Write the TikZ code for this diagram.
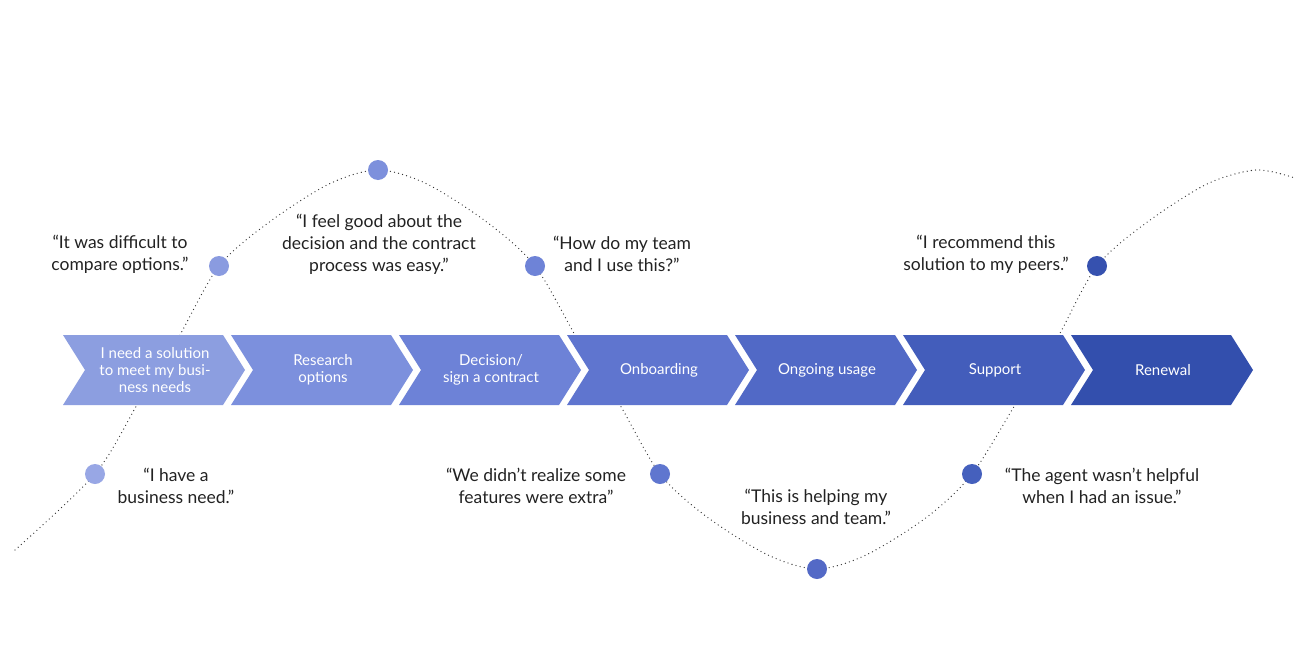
\documentclass[tikz,border=0pt]{standalone}
\usepackage{fontspec}
\setmainfont{Lato}
\definecolor{chA}{HTML}{8C9EE0}
\definecolor{chB}{HTML}{7C90DD}
\definecolor{chC}{HTML}{6D82D7}
\definecolor{chD}{HTML}{5F75CF}
\definecolor{chE}{HTML}{5169C6}
\definecolor{chF}{HTML}{435DBB}
\definecolor{chG}{HTML}{334FAD}
\definecolor{dtA}{HTML}{98A7E5}
\definecolor{dtB}{HTML}{8A9BE0}
\definecolor{dtC}{HTML}{7D90DC}
\definecolor{dtD}{HTML}{6E83D7}
\definecolor{dtE}{HTML}{5F76CF}
\definecolor{dtF}{HTML}{5369C6}
\definecolor{dtG}{HTML}{4560BD}
\definecolor{dtH}{HTML}{3651AF}
\definecolor{quotecol}{HTML}{222222}
\begin{document}
\begin{tikzpicture}[x=1pt,y=-1pt,
  steptext/.style={text=white,align=center,font=\fontsize{15}{17}\selectfont,inner sep=0pt},
  quote/.style={text=quotecol,align=center,font=\fontsize{17.5}{22}\selectfont,inner sep=0pt},
  dotnode/.style={circle,minimum size=20pt,inner sep=0pt,draw=none},
  curve/.style={draw=black!80,line width=1.3pt,line cap=round,dash pattern=on 0pt off 4.2pt}]
\useasboundingbox[fill=white] (0,0) rectangle (1295,653);
% dot positions
\coordinate (p1) at (95,474);
\coordinate (p2) at (219,266);
\coordinate (p3) at (378,170);
\coordinate (p4) at (535,266);
\coordinate (p5) at (660,474);
\coordinate (p6) at (817,569);
\coordinate (p7) at (972,474);
\coordinate (p8) at (1097,266);
\coordinate (cs) at (15,550);
\coordinate (ce) at (1295,178);
% dotted curve (behind the chevrons)
\draw[curve] plot[smooth,tension=0.5] coordinates {
  (cs) (p1) (137,405) (159,370) (180,335) (p2) (268,223) (329,184) (p3)
  (427,184) (488,223) (p4) (575,335) (597,370) (620,405) (p5)
  (707,517) (768,555) (p6) (866,555) (927,517) (p7)
  (1015,405) (1037,370) (1059,335) (p8) (1146,223) (1207,184) (1256,170) (ce)};
% chevrons
\foreach \i/\col/\txt [count=\n] in {
  0/chA/{I need a solution\\to meet my busi-\\ness needs},
  1/chB/{Research\\options},
  2/chC/{Decision/\\sign a contract},
  3/chD/{Onboarding},
  4/chE/{Ongoing usage},
  5/chF/{Support},
  6/chG/{Renewal}}{
  \pgfmathsetmacro\xo{63+168*\i}
  \fill[\col] (\xo,335) -- ++(160,0) -- ++(22,35) -- ++(-22,35) -- ++(-160,0) -- ++(22,-35) -- cycle;
  \node[steptext] (s\n) at (\xo+92,370) {\txt};
}
% dots
\node[dotnode,fill=dtA] (d1) at (p1) {};
\node[dotnode,fill=dtB] (d2) at (p2) {};
\node[dotnode,fill=dtC] (d3) at (p3) {};
\node[dotnode,fill=dtD] (d4) at (p4) {};
\node[dotnode,fill=dtE] (d5) at (p5) {};
\node[dotnode,fill=dtF] (d6) at (p6) {};
\node[dotnode,fill=dtG] (d7) at (p7) {};
\node[dotnode,fill=dtH] (d8) at (p8) {};
% quotes
\node[quote] (q1) at (176,486) {“I have a\\business need.”};
\node[quote] (q2) at (120,254) {“It was difficult to\\compare options.”};
\node[quote] (q3) at (379,244) {“I feel good about the\\decision and the contract\\process was easy.”};
\node[quote] (q4) at (622,254) {“How do my team\\and I use this?”};
\node[quote] (q5) at (536,486) {“We didn’t realize some\\features were extra”};
\node[quote] (q6) at (816,507) {“This is helping my\\business and team.”};
\node[quote] (q7) at (1102,486) {“The agent wasn’t helpful\\when I had an issue.”};
\node[quote] (q8) at (986,254) {“I recommend this\\solution to my peers.”};
\end{tikzpicture}
\end{document}
